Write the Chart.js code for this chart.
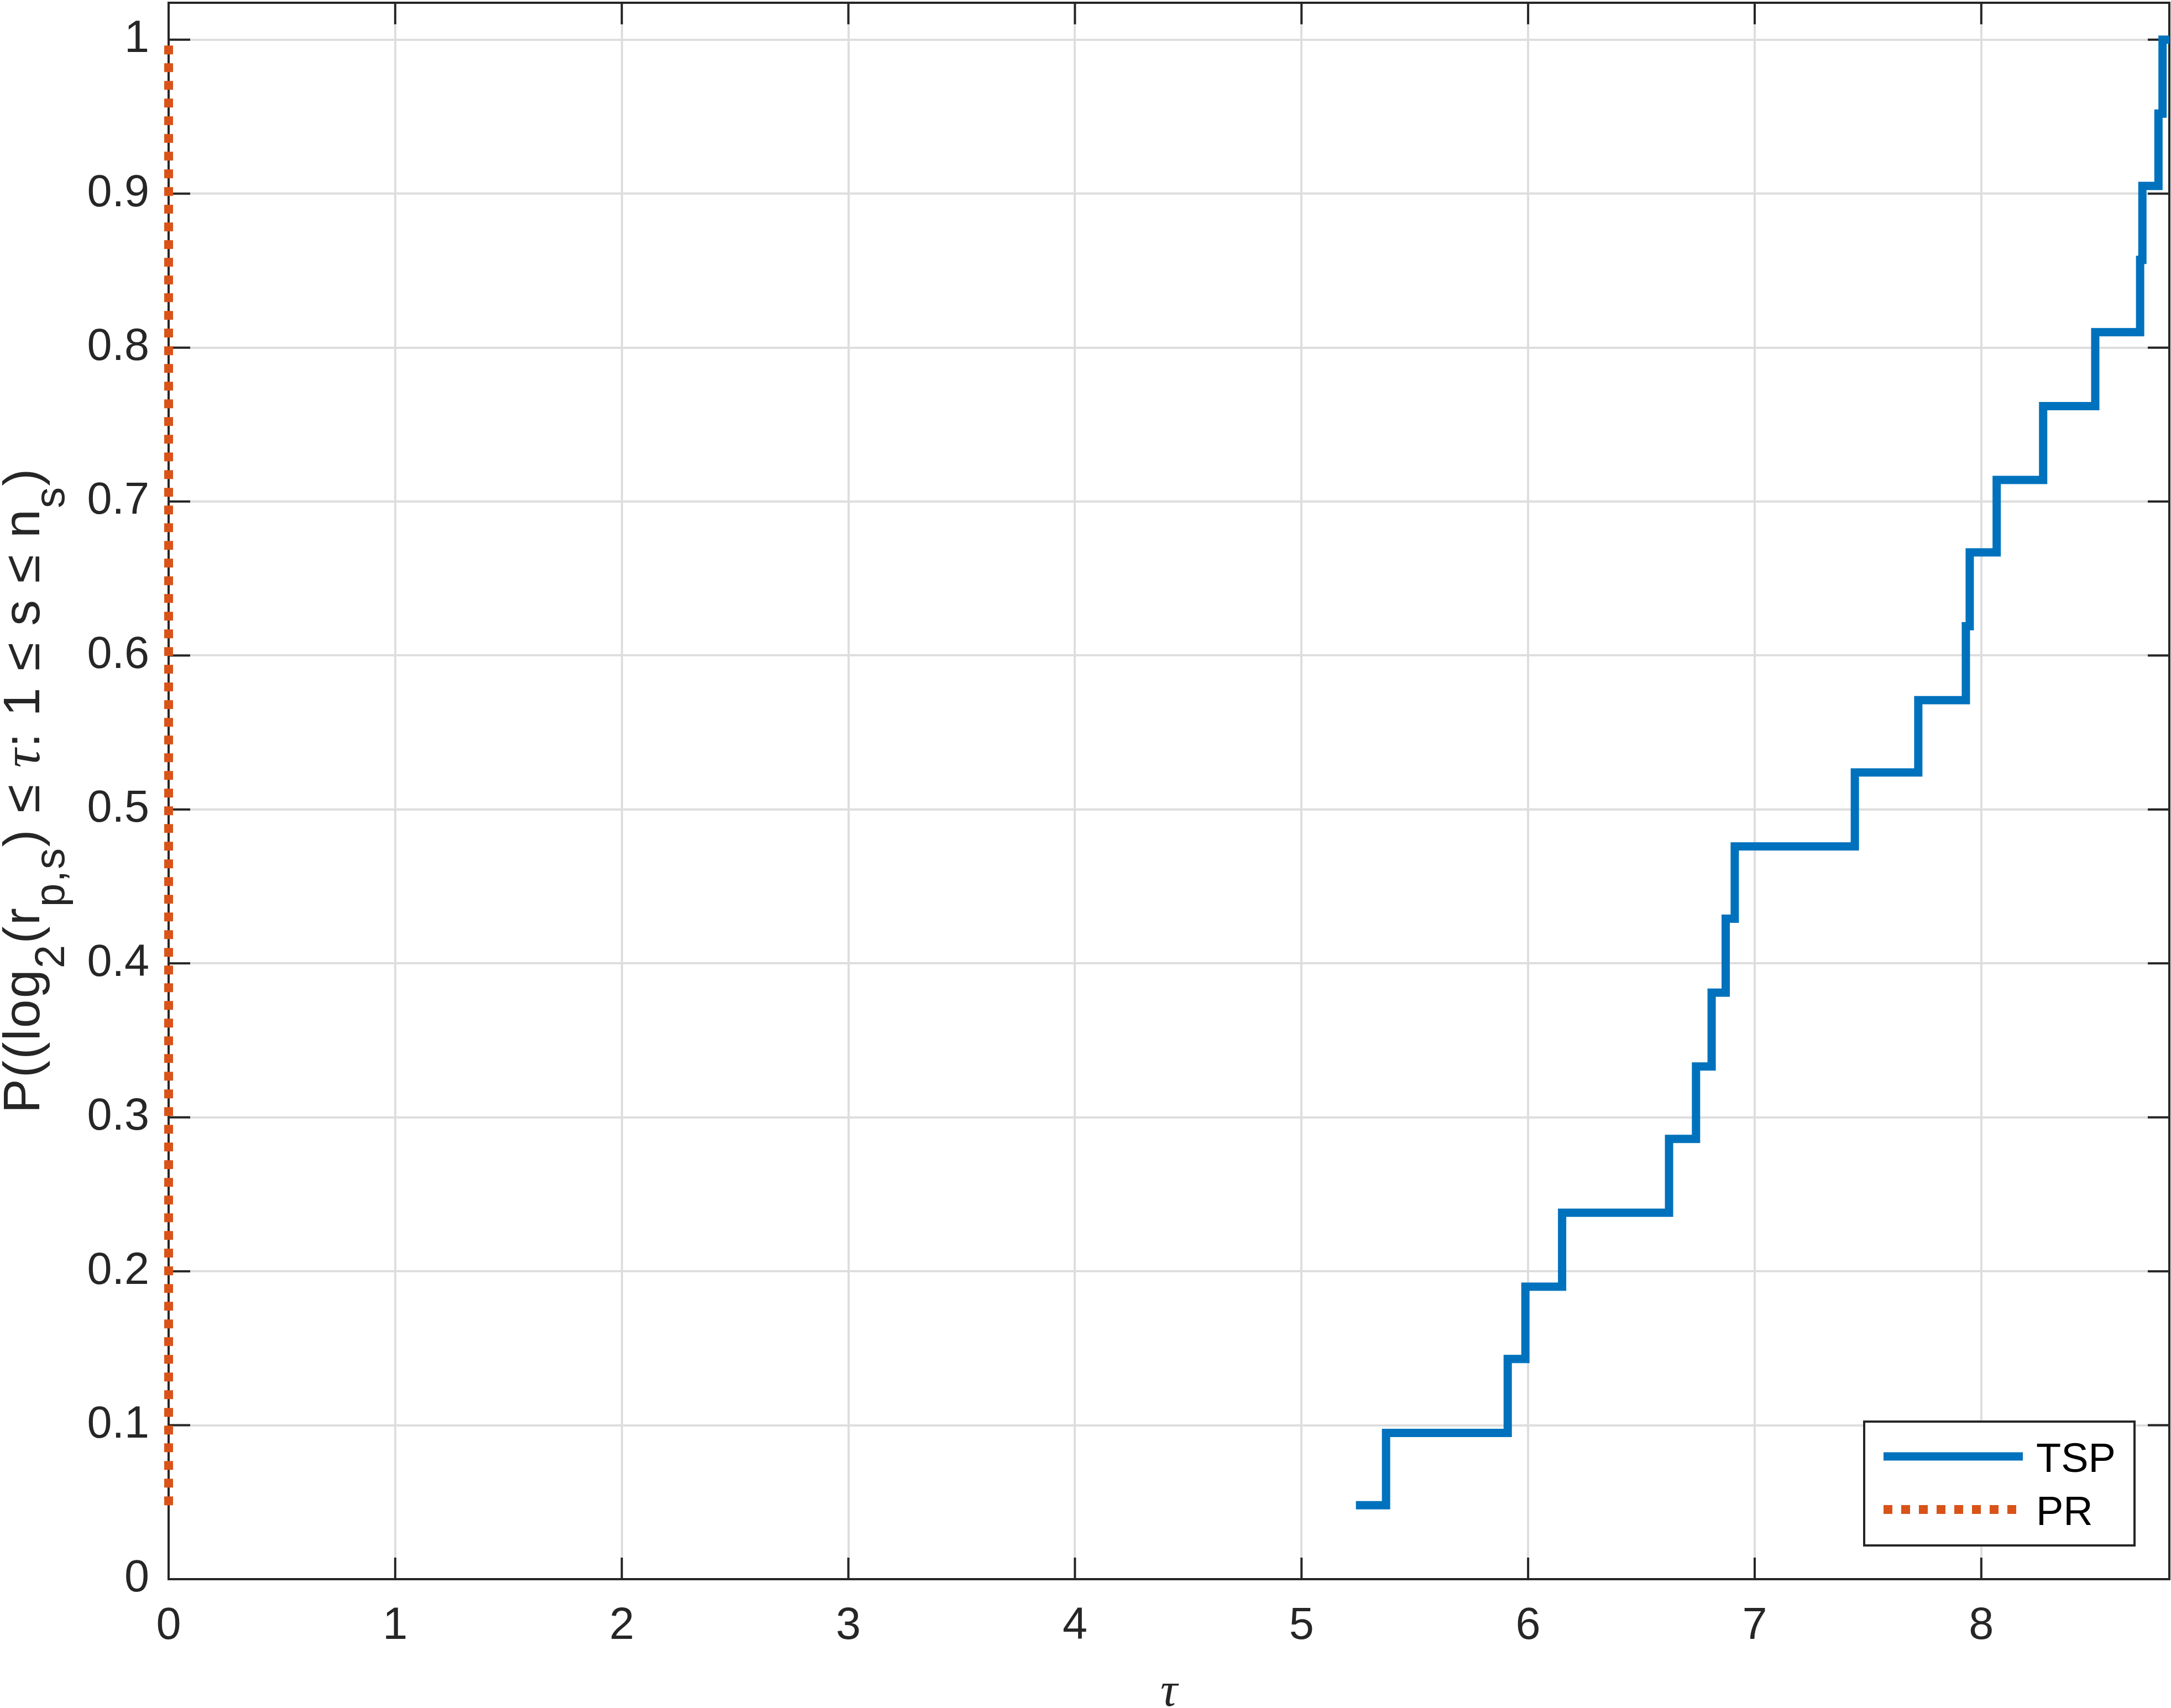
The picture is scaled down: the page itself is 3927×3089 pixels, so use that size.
<!DOCTYPE html>
<html lang="en">
<head>
    <meta charset="UTF-8">
    <title>Performance profile</title>
    <script src="https://cdn.jsdelivr.net/npm/chart.js@4/dist/chart.umd.min.js"></script>
    <style>
        body {margin: 0; background: white}
    </style>
</head>
<body>
<canvas id="chart" width="3927" height="3089"></canvas>
<script>

    // step positions (tau where each step happens)
    const tauTSP  = [5.24, 5.373, 5.91, 5.988, 6.15, 6.622, 6.741, 6.81, 6.872, 6.912, 7.442,
                     7.722, 7.932, 7.949, 8.068, 8.273, 8.503, 8.701, 8.711, 8.782, 8.80, 8.83];
    const probTSP = [0.048, 0.095, 0.143, 0.190, 0.238, 0.286, 0.333, 0.381, 0.429, 0.476, 0.524,
                     0.571, 0.619, 0.667, 0.714, 0.762, 0.810, 0.857, 0.905, 0.952, 1.0, 1.0];
    const tauPR   = [0, 0];
    const probPR  = [0.048, 1.0];

    const xTicks = [0, 1, 2, 3, 4, 5, 6, 7, 8];
    const yTicks = [0, 0.1, 0.2, 0.3, 0.4, 0.5, 0.6, 0.7, 0.8, 0.9, 1];
    const yTickLabels = ['0', '0.1', '0.2', '0.3', '0.4', '0.5', '0.6', '0.7', '0.8', '0.9', '1'];

    const axisColor = '#262626';
    const sans = '"Liberation Sans", Arial, sans-serif';

    // box round the axes plus inward ticks on all four sides
    const boxPlugin = {
        id: 'box',
        beforeDatasetsDraw(chart) {
            const {ctx, chartArea: a, scales: {x, y}} = chart;
            const tl = 39;
            ctx.save();
            ctx.strokeStyle = axisColor;
            ctx.lineWidth = 4;
            ctx.beginPath();
            xTicks.forEach(v => {
                const px = x.getPixelForValue(v);
                ctx.moveTo(px, a.bottom); ctx.lineTo(px, a.bottom - tl);
                ctx.moveTo(px, a.top); ctx.lineTo(px, a.top + tl);
            });
            yTicks.forEach(v => {
                const py = y.getPixelForValue(v);
                ctx.moveTo(a.left, py); ctx.lineTo(a.left + tl, py);
                ctx.moveTo(a.right, py); ctx.lineTo(a.right - tl, py);
            });
            ctx.stroke();
            ctx.strokeRect(a.left, a.top, a.right - a.left, a.bottom - a.top);
            ctx.restore();
        }
    };

    // y label with TeX-like subscripts
    const yLabelParts = [
        {t: 'P((log'}, {t: '2', sub: true}, {t: '(r'}, {t: 'p,s', sub: true},
        {t: ') \u2264 '}, {t: '\u03C4', it: true}, {t: ': 1 \u2264 s \u2264 n'}, {t: 's', sub: true}, {t: ')'}
    ];
    const yLabelPlugin = {
        id: 'ylabel',
        afterDraw(chart) {
            const {ctx, chartArea: a} = chart;
            const mainFont = '93px ' + sans, subFont = '76px ' + sans;
            const itFont = 'italic 96px "Liberation Serif", serif';
            const fontOf = p => p.sub ? subFont : (p.it ? itFont : mainFont);
            const target = 1168;
            ctx.save();
            let total = 0, n = 0;
            yLabelParts.forEach(p => {
                ctx.font = fontOf(p);
                total += ctx.measureText(p.t).width;
                n += p.t.length;
            });
            const gap = Math.max(0, (target - total) / n);
            ctx.translate(71, (a.top + a.bottom) / 2);
            ctx.rotate(-Math.PI / 2);
            ctx.fillStyle = axisColor;
            ctx.textBaseline = 'alphabetic';
            let cx = -target / 2;
            yLabelParts.forEach(p => {
                ctx.font = fontOf(p);
                for (const ch of p.t) {
                    ctx.fillText(ch, cx + gap / 2, p.sub ? 45 : 0);
                    cx += ctx.measureText(ch).width + gap;
                }
            });
            ctx.restore();
        }
    };

    // MATLAB style legend box in the lower right corner
    const legendPlugin = {
        id: 'boxlegend',
        afterDraw(chart) {
            const {ctx, chartArea: a} = chart;
            const w = 489, h = 224;
            const lx = a.right - 63 - w, ly = a.bottom - 61 - h;
            ctx.save();
            ctx.fillStyle = 'white';
            ctx.fillRect(lx, ly, w, h);
            ctx.strokeStyle = axisColor;
            ctx.lineWidth = 4;
            ctx.strokeRect(lx, ly, w, h);
            chart.data.datasets.forEach((ds, i) => {
                const yy = ly + 63 + i * 96;
                ctx.strokeStyle = ds.borderColor;
                ctx.lineWidth = ds.borderWidth;
                ctx.lineCap = 'butt';
                ctx.setLineDash(ds.borderDash || []);
                ctx.beginPath();
                ctx.moveTo(lx + 35, yy);
                ctx.lineTo(lx + 287, yy);
                ctx.stroke();
                ctx.setLineDash([]);
                ctx.fillStyle = 'black';
                ctx.font = '74px ' + sans;
                ctx.textBaseline = 'alphabetic';
                ctx.fillText(ds.label, lx + 311, yy + 28);
            });
            ctx.restore();
        }
    };

    const chart = new Chart('chart', {
        type: 'line',
        data: {
            datasets: [
                {
                    label: 'TSP',
                    data: tauTSP.map((t, i) => ({x: t, y: probTSP[i]})),
                    borderColor: '#0072BD',
                    borderWidth: 15,
                    stepped: 'before',
                    borderJoinStyle: 'miter',
                    borderCapStyle: 'butt',
                    pointRadius: 0,
                    fill: false
                },
                {
                    label: 'PR',
                    data: tauPR.map((t, i) => ({x: t, y: probPR[i]})),
                    borderColor: '#D95319',
                    borderWidth: 16,
                    borderDash: [16, 16],
                    borderCapStyle: 'butt',
                    pointRadius: 0,
                    fill: false,
                    clip: false
                }
            ]
        },
        options: {
            responsive: false,
            animation: false,
            devicePixelRatio: 1,
            layout: {autoPadding: false, padding: {left: 0, top: 5, right: 3, bottom: 0}},
            plugins: {legend: {display: false}, tooltip: {enabled: false}},
            scales: {
                x: {
                    type: 'linear',
                    min: 0,
                    max: 8.83,
                    afterBuildTicks: s => { s.ticks = xTicks.map(v => ({value: v})); },
                    afterFit: s => { s.height = 233; s.paddingLeft = 0; s.paddingRight = 0; },
                    grid: {color: '#dedede', lineWidth: 4, drawTicks: false},
                    border: {display: false},
                    ticks: {
                        color: axisColor,
                        font: {family: sans, size: 81},
                        padding: 37,
                        maxRotation: 0,
                        callback: v => String(v)
                    },
                    title: {
                        display: true,
                        text: '\u03C4',
                        color: axisColor,
                        font: {family: '"Liberation Serif", serif', style: 'italic', size: 86, lineHeight: 0.6},
                        padding: {top: 0, bottom: 1}
                    }
                },
                y: {
                    type: 'linear',
                    min: 0,
                    max: 1.024,
                    afterBuildTicks: s => { s.ticks = yTicks.map(v => ({value: v})); },
                    afterFit: s => { s.width = 305; s.paddingTop = 0; s.paddingBottom = 0; },
                    grid: {color: '#dedede', lineWidth: 4, drawTicks: false},
                    border: {display: false},
                    ticks: {
                        color: axisColor,
                        font: {family: sans, size: 81},
                        padding: 35,
                        callback: (v, i) => yTickLabels[i]
                    }
                }
            }
        },
        plugins: [boxPlugin, yLabelPlugin, legendPlugin]
    });

</script>
</body>
</html>
